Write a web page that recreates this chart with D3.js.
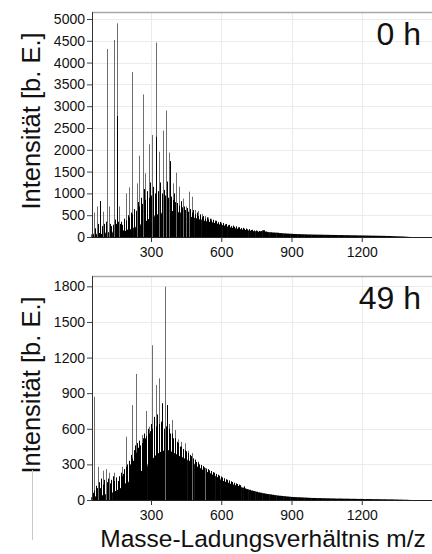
<!DOCTYPE html>
<html><head><meta charset="utf-8">
<script src="https://cdn.jsdelivr.net/npm/d3@7"></script>
<style>html,body{margin:0;padding:0;background:#fff;}svg{display:block;}</style>
</head><body>
<svg id="c" width="432" height="554"></svg>
<script>
// ---------- DATA ----------
const bulkStart = 50, bulkStep = 10;           // m/z grid of the dense envelope
const xTicks = [300, 600, 900, 1200];
const topYTicks = [0,500,1000,1500,2000,2500,3000,3500,4000,4500,5000];
const botYTicks = [0,300,600,900,1200,1500,1800];
const topLabel = "0 h", botLabel = "49 h";

// 0 h: dense envelope (m/z 50..1400, every 10)
const bulk0h = [
 60,80,60,90,70,100,80,110,90,120,
 110,130,120,150,140,170,180,200,220,250,
 270,300,330,370,410,440,470,500,520,540,
 560,575,585,590,595,590,580,565,550,530,
 505,480,460,445,430,415,400,385,370,355,
 345,335,320,305,290,275,260,245,232,220,
 210,200,190,180,170,160,152,145,138,132,
 126,120,130,155,125,112,108,104,100,98,
 90,86,82,79,76,73,70,68,66,64,
 62,60,58,57,56,55,54,53,52,51,
 50,49,48,47,46,45,44,43,42,41,
 40,39,38,37,36,35,34,33,32,31,
 30,29,28,27,26,25,24,22,20,18,
 16,14,12,10,6,3];
// 0 h: tall thin (grey) peaks [m/z, intensity]
const grey0h = [[57,560],[68,700],[94,580],[114,4310],[121,700],[142,4520],[154,4900],[165,700],
 [192,1000],[207,1140],[220,3785],[239,1230],[250,1865],[264,3270],[274,1460],[293,2125],[304,2340],
 [320,4460],[336,1955],[350,2440],[364,2900],[377,1935],[393,1230],[407,1475],[421,1155],[435,880],
 [448,700],[461,1040],[474,925],[488,620],[502,600],[516,530],[530,480],[544,450],[558,420],
 [572,380],[586,350],[600,330]];
// 0 h: black peaks [m/z, intensity]
const black0h = [[82,825],[155,2775],[101,300],[130,250],[150,300],[172,350],[185,420],[200,500],
 [213,560],[227,640],[243,800],[257,900],[268,1100],[285,1050],[297,1250],[309,1150],[323,2300],
 [340,1250],[355,1080],[369,1270],[381,1740],[387,925],[399,1000],[413,780],[427,820],[441,700],
 [455,665],[468,640],[481,620],[495,560],[509,520],[523,480],[537,450],[551,420],[565,395],
 [579,370],[593,345],[607,320],[621,300],[635,280],[649,262],[663,245],[677,225],[691,210],
 [705,195],[719,180],[733,165],[747,150],[761,140],
 [60,200],[75,300],[90,250],[108,350],[126,300],[138,280],[147,400],[160,350],[168,300],
 [178,280],[192,380],[206,450],[220,520],[234,600],[248,700],[262,760],[276,850],[290,900],
 [302,950],[316,1000],[330,1050],[345,1000],[360,950],[374,900],[392,850],[404,800],[418,720],
 [432,680],[446,620],[460,580],[474,560],[488,520],[502,480],[516,450],[530,420],[544,400],
 [558,380],[572,360],[586,330],[600,305],[614,290],[628,270],[642,250],[656,235],[670,220],
 [684,205],[698,190],[712,175],[726,160],[740,150],[754,140],[768,135]];

// 49 h: dense envelope (m/z 50..1400, every 10)
const bulk49h = [
 25,30,35,30,40,45,50,55,60,65,
 75,85,100,120,140,150,160,175,190,205,
 225,245,265,285,305,330,355,375,395,405,
 415,420,420,415,405,395,385,370,360,350,
 340,330,315,305,292,280,268,256,245,235,
 225,214,203,192,180,170,160,152,145,137,
 130,124,118,112,105,98,92,86,80,75,
 70,65,61,57,53,50,47,44,41,38,
 36,34,32,30,28,26,25,24,23,22,
 21,20,19,18,17,17,16,16,15,15,
 14,14,13,13,12,12,12,11,11,11,
 10,10,10,9,9,9,8,8,8,8,
 7,7,7,6,6,6,5,5,5,4,
 4,3,3,2,2,1];
const grey49h = [[57,870],[75,280],[96,247],[106,260],[122,230],[142,230],[178,280],[192,533],
 [220,800],[236,1062],[260,548],[279,750],[293,618],[306,1303],[320,970],[334,1025],[361,1797],
 [375,640],[390,674],[402,590],[416,511],[430,490],[445,478],[459,415],[473,395],[487,337],
 [501,323],[515,295],[529,270],[543,255],[557,240],[571,225],[585,210]];
const black49h = [[52,60],[64,120],[82,100],[88,180],[110,150],[116,180],[130,170],[136,200],
 [150,190],[158,160],[164,200],[170,230],[185,260],[199,300],[206,330],[213,380],[227,420],
 [233,460],[241,480],[248,500],[255,440],[267,520],[272,560],[286,600],[300,640],[313,700],
 [327,720],[341,660],[348,815],[355,600],[368,800],[382,560],[396,520],[409,490],[423,450],
 [437,430],[451,410],[465,380],[479,350],[493,320],[507,300],[521,285],[535,265],[549,250],
 [563,235],[577,220],[591,205],[605,190],[619,175],[633,165],[647,152],[661,140],[675,130],
 [57,80],[70,100],[78,150],[94,130],[100,170],[124,140],[144,160],[176,200],[180,220],[192,280],
 [196,250],[210,300],[220,350],[224,330],[236,400],[244,440],[252,460],[262,480],[276,520],
 [280,540],[292,560],[296,580],[306,600],[320,620],[334,640],[362,620],[376,600],[389,560],
 [402,520],[416,480],[430,450],[444,420],[458,395],[472,370],[486,340],[500,315],[514,295],
 [528,275],[542,260],[556,245],[570,230],[584,212],[598,198],[612,183],[626,170],[640,158],
 [654,146],[668,135],[682,125],[696,115]];

// ---------- DRAW ----------
const svg = d3.select("#c");
const FONT = "'Liberation Sans', Arial, sans-serif";
const L = 92, R = 432;
const x = d3.scaleLinear().domain([48, 1500]).range([L, R]);

function panel(o) {
  const y = d3.scaleLinear().domain([0, o.yMax]).range([o.base, o.top]);
  const g = svg.append("g");
  // grid
  g.selectAll(".gx").data(xTicks).join("line")
    .attr("x1", d => Math.round(x(d)) + 0.5).attr("x2", d => Math.round(x(d)) + 0.5)
    .attr("y1", o.top).attr("y2", o.base).attr("stroke", "#ebebeb").attr("stroke-width", 1);
  g.selectAll(".gy").data(o.yTicks.slice(1)).join("line")
    .attr("x1", L).attr("x2", R)
    .attr("y1", d => Math.round(y(d)) + 0.5).attr("y2", d => Math.round(y(d)) + 0.5)
    .attr("stroke", "#ebebeb").attr("stroke-width", 1);
  // dense envelope
  g.selectAll(".bulk").data(o.bulk).join("rect")
    .attr("x", (d, i) => x(bulkStart + i * bulkStep - bulkStep / 2))
    .attr("width", (d, i) => x(bulkStart + i * bulkStep + bulkStep / 2) - x(bulkStart + i * bulkStep - bulkStep / 2) + 0.4)
    .attr("y", d => y(d)).attr("height", d => o.base - y(d))
    .attr("fill", "#000");
  // grey peaks
  g.selectAll(".gp").data(o.grey).join("line")
    .attr("x1", d => Math.round(x(d[0])) + 0.5).attr("x2", d => Math.round(x(d[0])) + 0.5)
    .attr("y1", o.base).attr("y2", d => y(d[1]))
    .attr("stroke", "#6e6e6e").attr("stroke-width", 1);
  // black peaks
  g.selectAll(".bp").data(o.black).join("line")
    .attr("x1", d => Math.round(x(d[0])) + 0.5).attr("x2", d => Math.round(x(d[0])) + 0.5)
    .attr("y1", o.base).attr("y2", d => y(d[1]))
    .attr("stroke", "#000").attr("stroke-width", 1);
  // top frame
  g.append("line").attr("x1", L).attr("x2", R).attr("y1", o.top + 0.5).attr("y2", o.top + 0.5)
    .attr("stroke", "#a8a8a8").attr("stroke-width", 1.5);
  // x axis
  const xa = g.append("g").attr("transform", `translate(0,${o.base})`);
  xa.call(d3.axisBottom(x).tickValues(d3.range(100, 1500, 100)).tickSize(3).tickFormat(""));
  xa.call(d3.axisBottom(x).tickValues(xTicks).tickSize(5).tickFormat(d3.format("d")).tickPadding(o.xPad));
  xa.selectAll("path").attr("stroke", "#222").attr("d", `M${L},0.5H${R}`);
  xa.selectAll("line").attr("stroke", "#333");
  xa.selectAll("text").attr("font-family", FONT).attr("font-size", 14).attr("fill", "#111");
  // y axis
  const ya = g.append("g").attr("transform", `translate(${L},0)`);
  ya.call(d3.axisLeft(y).tickValues(d3.range(0, o.yTicks[o.yTicks.length - 1] + 1, 100)).tickSize(2.5).tickFormat(""));
  ya.call(d3.axisLeft(y).tickValues(o.yTicks).tickSize(5).tickPadding(2).tickFormat(d3.format("d")));
  ya.selectAll("path").attr("stroke", "#333").attr("d", `M0.5,${o.top}V${o.base}`);
  ya.selectAll("line").attr("stroke", "#444");
  ya.selectAll("text").attr("font-family", FONT).attr("font-size", 14).attr("fill", "#111");
  // y title
  svg.append("text").attr("transform", `translate(39.5,${o.labelY}) rotate(-90)`)
    .attr("text-anchor", "middle").attr("font-family", FONT).attr("font-size", 25.5)
    .attr("fill", "#111").text("Intensität [b. E.]");
  // time label
  svg.append("text").attr("x", 421).attr("y", o.tY).attr("text-anchor", "end")
    .attr("font-family", FONT).attr("font-size", 32).attr("fill", "#111").text(o.label);
}

panel({top: 12, base: 237, yMax: 5160, yTicks: topYTicks, bulk: bulk0h, grey: grey0h, black: black0h,
       labelY: 121, label: topLabel, tY: 45, xPad: 5});
panel({top: 276, base: 500, yMax: 1887, yTicks: botYTicks, bulk: bulk49h, grey: grey49h, black: black49h,
       labelY: 385, label: botLabel, tY: 309, xPad: 5});

// x title
svg.append("text").attr("x", 263).attr("y", 547).attr("text-anchor", "middle")
  .attr("font-family", FONT).attr("font-size", 24.5).attr("fill", "#111").text("Masse-Ladungsverhältnis m/z");
// faint stray rule left of lower panel
svg.append("line").attr("x1", 32.5).attr("x2", 32.5).attr("y1", 470).attr("y2", 540)
  .attr("stroke", "#c8c8c8").attr("stroke-width", 1);
</script>
</body></html>
